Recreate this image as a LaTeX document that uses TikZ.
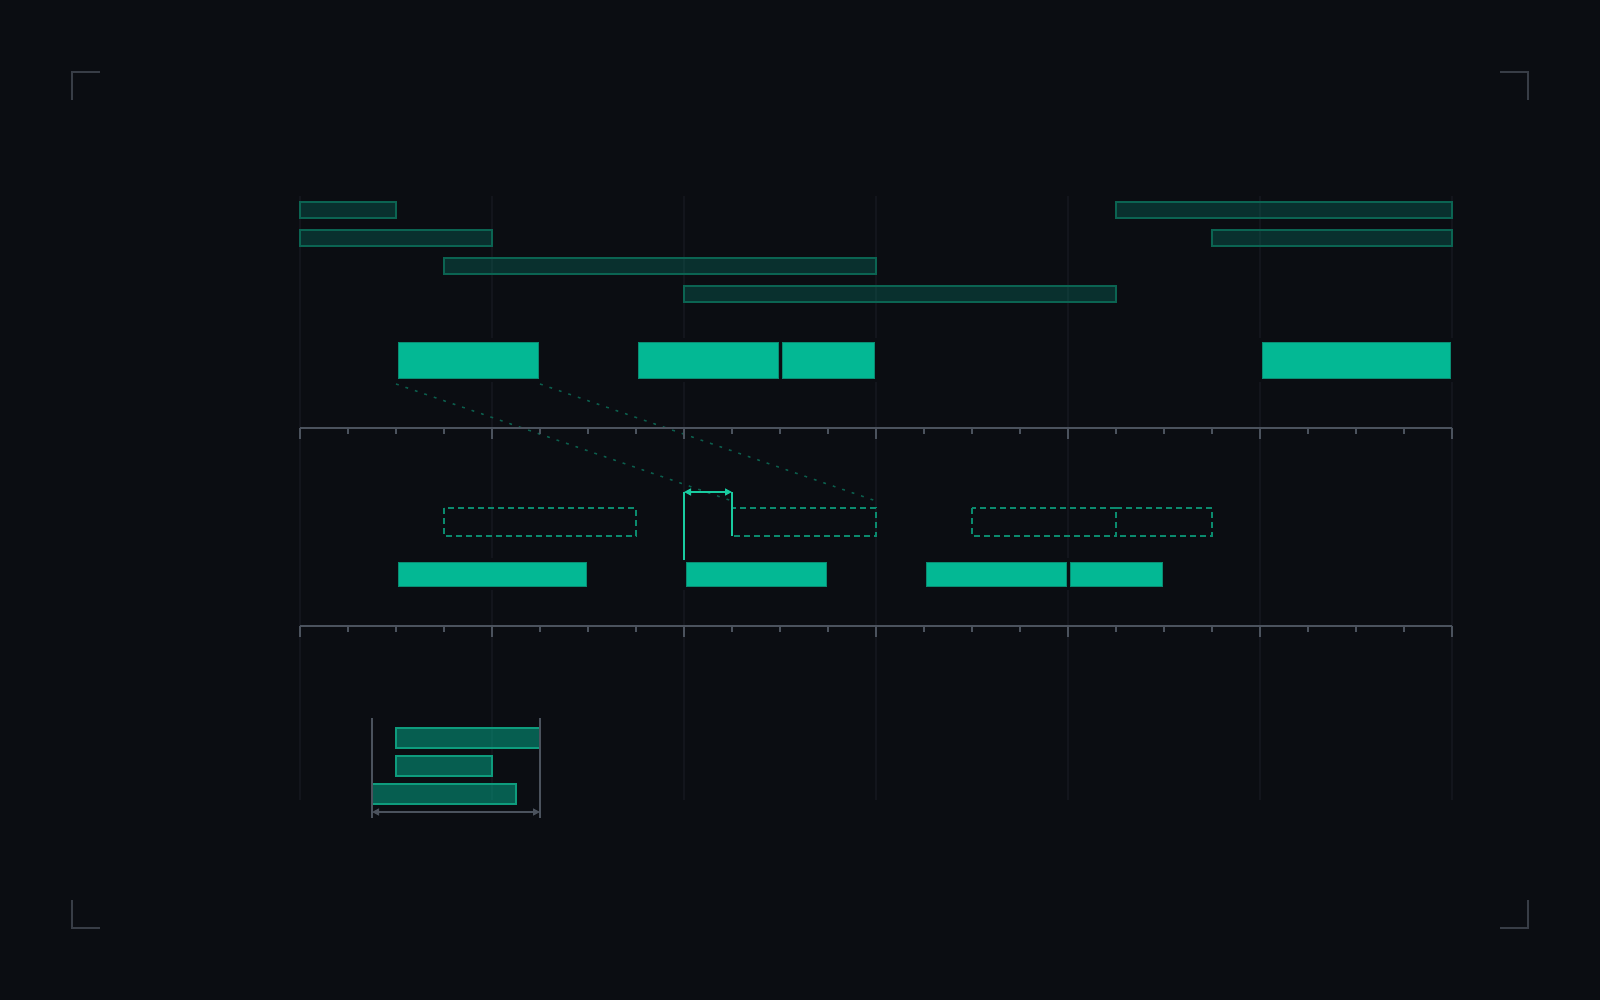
\documentclass[tikz,border=0pt]{standalone}
\usetikzlibrary{arrows.meta}
\definecolor{bg}{HTML}{0B0D12}
\definecolor{gridc}{HTML}{13151C}
\definecolor{axisc}{HTML}{4B525D}
\definecolor{cornerc}{HTML}{383D46}
\definecolor{darkfill}{HTML}{087465}
\definecolor{darkstroke}{HTML}{0B6452}
\definecolor{brightfill}{HTML}{03B894}
\definecolor{brightstroke}{HTML}{0A8C72}
\definecolor{lowfill}{HTML}{03AF8E}
\definecolor{lowstroke}{HTML}{0E9C7D}
\definecolor{dashc}{HTML}{0B8A6E}
\definecolor{dotc}{HTML}{0B5E4D}
\definecolor{arrowc}{HTML}{19CBA0}
\tikzset{
  gridline/.style={draw=gridc, line width=1pt},
  axisline/.style={draw=axisc, line width=1pt},
  cornerline/.style={draw=cornerc, line width=1pt},
  darkbar/.style={fill=darkfill, fill opacity=0.35, draw=darkstroke, line width=0.75pt},
  halo/.style={fill=bg},
  brightbar/.style={fill=brightfill, draw=brightstroke, line width=0.5pt},
  lowbar/.style={fill=lowfill, fill opacity=0.5, draw=lowstroke, line width=0.75pt},
  ghostbox/.style={draw=dashc, line width=0.75pt, dash pattern=on 3pt off 2pt},
  mapline/.style={draw=dotc, line width=0.75pt, dash pattern=on 1.4pt off 3.6pt},
  gapmark/.style={draw=arrowc, line width=0.75pt},
  measure/.style={draw=axisc, line width=0.75pt},
}
\begin{document}
\begin{tikzpicture}[x=0.5pt,y=-0.5pt]
\fill[bg] (0,0) rectangle (1600,1000);
\useasboundingbox (0,0) rectangle (1600,1000);

% corner brackets
\draw[cornerline] (100,72) -- (72,72) -- (72,100);
\draw[cornerline] (1500,72) -- (1528,72) -- (1528,100);
\draw[cornerline] (100,928) -- (72,928) -- (72,900);
\draw[cornerline] (1500,928) -- (1528,928) -- (1528,900);

% grid
\foreach \x in {300,492,...,1452} \draw[gridline] (\x,196) -- (\x,800);

% top dark bars
\draw[darkbar] (300,202) rectangle (396,218);
\draw[darkbar] (1116,202) rectangle (1452,218);
\draw[darkbar] (300,230) rectangle (492,246);
\draw[darkbar] (1212,230) rectangle (1452,246);
\draw[darkbar] (444,258) rectangle (876,274);
\draw[darkbar] (684,286) rectangle (1116,302);

% halos
\fill[halo] (394,338) rectangle (542,382);
\fill[halo] (634,338) rectangle (782,382);
\fill[halo] (778,338) rectangle (878,382);
\fill[halo] (1258,338) rectangle (1454,382);
\fill[halo] (394,558) rectangle (590,590);
\fill[halo] (682,558) rectangle (830,590);
\fill[halo] (922,558) rectangle (1070,590);
\fill[halo] (1066,558) rectangle (1166,590);

% top bright bars
\draw[brightbar] (398,342) rectangle (538,378);
\draw[brightbar] (638,342) rectangle (778,378);
\draw[brightbar] (782,342) rectangle (874,378);
\draw[brightbar] (1262,342) rectangle (1450,378);

% mapping lines
\coordinate (m1a) at (396,384);
\coordinate (m1b) at (732,501);
\coordinate (m2a) at (540,384);
\coordinate (m2b) at (876,501);
\draw[mapline] (m1a) -- (m1b);
\draw[mapline] (m2a) -- (m2b);

% axes
\foreach \y in {428,626}{
  \draw[axisline] (300,\y) -- (1452,\y);
  \foreach \x in {348,396,...,1404} \draw[axisline] (\x,\y) -- (\x,\y+6);
  \foreach \x in {300,492,...,1452} \draw[axisline] (\x,\y) -- (\x,\y+11);
}

% ghost boxes
\draw[ghostbox] (444,508) rectangle (636,536);
\draw[ghostbox] (732,508) rectangle (876,536);
\draw[ghostbox] (972,508) rectangle (1116,536);
\draw[ghostbox] (1116,508) -- (1212,508) -- (1212,536) -- (1116,536);

% middle bright bars
\draw[brightbar] (398,562) rectangle (586,586);
\draw[brightbar] (686,562) rectangle (826,586);
\draw[brightbar] (926,562) rectangle (1066,586);
\draw[brightbar] (1070,562) rectangle (1162,586);

% gap marker
\coordinate (g1t) at (684,492);
\coordinate (g1b) at (684,560);
\coordinate (g2t) at (732,492);
\coordinate (g2b) at (732,536);
\draw[gapmark] (g1b) -- (g1t);
\draw[gapmark] (g2b) -- (g2t);
\draw[gapmark, {Triangle[length=3.5pt,width=3.5pt]}-{Triangle[length=3.5pt,width=3.5pt]}] (g1t) -- (g2t);

% bottom bars
\draw[lowbar] (396,728) rectangle (540,748);
\draw[lowbar] (396,756) rectangle (492,776);
\draw[lowbar] (372,784) rectangle (516,804);

% measure
\coordinate (l1t) at (372,718);
\coordinate (l1b) at (372,818);
\coordinate (l2t) at (540,718);
\coordinate (l2b) at (540,818);
\draw[measure] (l1t) -- (l1b);
\draw[measure] (l2t) -- (l2b);
\coordinate (ma) at (372,812);
\coordinate (mb) at (540,812);
\draw[measure, {Triangle[length=3.5pt,width=3.5pt]}-{Triangle[length=3.5pt,width=3.5pt]}] (ma) -- (mb);
\end{tikzpicture}
\end{document}
